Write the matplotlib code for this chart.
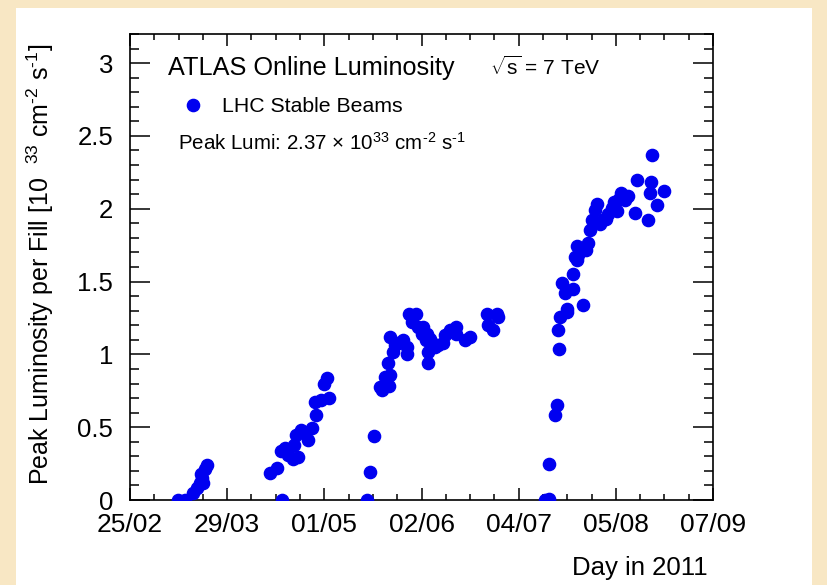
"""ATLAS online peak luminosity per fill, 2011 — ROOT-style scatter."""
import matplotlib
matplotlib.use("Agg")
import matplotlib.pyplot as plt
from matplotlib.patches import Rectangle

plt.rcParams["font.family"] = ["Liberation Sans", "DejaVu Sans"]
plt.rcParams["mathtext.fontset"] = "custom"
plt.rcParams["mathtext.rm"] = "Liberation Sans"
plt.rcParams["mathtext.it"] = "Liberation Sans:italic"
plt.rcParams["mathtext.bf"] = "Liberation Sans:bold"

# day of year 2011 for each fill, and its peak luminosity [1e33 cm^-2 s^-1]
day_mar = [72.0, 74.3, 77.0, 78.3, 79.3, 80.3, 80.0, 79.6, 81.0, 81.6]
lumi_mar = [0.0, 0.0, 0.05, 0.08, 0.12, 0.12, 0.15, 0.18, 0.21, 0.24]

day_apr = [102.6, 104.8, 106.5, 106.2, 107.6, 108.7, 110.6, 110.3, 112.0, 111.2,
           112.8, 114.2, 115.3, 116.5, 117.9, 117.6, 119.5, 122.3, 120.7, 121.7]
lumi_apr = [0.187, 0.217, 0.0, 0.338, 0.357, 0.309, 0.377, 0.279, 0.293, 0.446,
            0.48, 0.46, 0.41, 0.496, 0.583, 0.674, 0.69, 0.697, 0.80, 0.84]

day_jun = [135.0, 135.9, 137.2, 139.8, 139.2, 142.3, 142.5, 140.9, 142.0, 143.4,
           144.2, 142.5, 145.3, 146.9, 148.3, 148.1, 148.9, 151.2, 149.7, 151.9,
           153.6, 153.1, 154.9, 154.5, 155.8, 156.4, 155.3, 155.3, 157.5, 158.6,
           160.3, 160.8, 162.5, 164.5, 164.5, 167.5, 169.1, 174.9, 178.0, 178.6,
           175.2, 176.9]
lumi_jun = [0.0, 0.194, 0.439, 0.754, 0.777, 0.782, 0.857, 0.846, 0.942, 1.017,
            1.063, 1.12, 1.075, 1.097, 1.052, 1.006, 1.28, 1.28, 1.223, 1.189,
            1.189, 1.143, 1.143, 1.10, 1.109, 1.075, 1.017, 0.942, 1.052, 1.063,
            1.075, 1.132, 1.166, 1.189, 1.143, 1.097, 1.12, 1.28, 1.28, 1.257,
            1.20, 1.166]

day_aug = [194.1, 195.5, 195.5, 198.0, 197.4, 198.9, 198.5, 199.1, 201.3, 201.3,
           200.8, 199.7, 203.5, 203.3, 206.6, 204.6, 205.2, 204.1, 204.6, 207.7,
           208.5, 209.1, 209.6, 210.7, 211.5, 212.4, 213.0, 214.4, 215.2, 216.3,
           217.1, 218.0, 218.8, 219.4, 220.7, 221.8, 224.1, 224.6, 228.5, 229.3,
           229.0, 229.8, 231.3, 233.7]
lumi_aug = [0.0, 0.01, 0.25, 0.65, 0.583, 1.04, 1.17, 1.257, 1.29, 1.315,
            1.42, 1.49, 1.45, 1.55, 1.337, 1.646, 1.68, 1.669, 1.742, 1.715,
            1.765, 1.857, 1.92, 1.994, 2.035, 1.898, 1.92, 1.932, 1.966, 2.007,
            2.046, 1.984, 2.069, 2.108, 2.058, 2.085, 1.97, 2.20, 1.925, 2.183,
            2.108, 2.366, 2.023, 2.121]

days = day_mar + day_apr + day_jun + day_aug
lumi = lumi_mar + lumi_apr + lumi_jun + lumi_aug

x_labels = ["25/02", "29/03", "01/05", "02/06", "04/07", "05/08", "07/09"]
y_labels = ["0", "0.5", "1", "1.5", "2", "2.5", "3"]
day_min, day_max = 56, 250

BLUE = "#0000f0"

fig = plt.figure(figsize=(8.27, 5.85), dpi=100)
fig.patch.set_facecolor("#f8e7c4")
fig.patches.append(Rectangle((16 / 827, 0), 796 / 827, 577 / 585,
                             transform=fig.transFigure, facecolor="white",
                             edgecolor="none", zorder=-10))
ax = fig.add_axes([130 / 827, 85 / 585, 583 / 827, 466 / 585])
ax.set_zorder(1)

ax.plot(days, lumi, "o", color=BLUE, ms=8.8, mec=BLUE, ls="none", zorder=3)

ax.set_xlim(day_min, day_max)
ax.set_ylim(0, 3.2)
step = (day_max - day_min) / 6
ax.set_xticks([day_min + i * step for i in range(7)])
ax.set_xticklabels(x_labels)
ax.set_xticks([day_min + i * step / 4 for i in range(25)], minor=True)
ax.set_yticks([0.5 * i for i in range(7)])
ax.set_yticklabels(y_labels)
ax.set_yticks([0.1 * i for i in range(33)], minor=True)

for s in ax.spines.values():
    s.set_linewidth(1.2)
ax.tick_params(which="both", direction="in", top=True, right=True, width=1.1,
               labelsize=19)
ax.tick_params(axis="x", which="major", length=8.6, pad=9)
ax.tick_params(axis="x", which="minor", length=4.3)
ax.tick_params(axis="y", which="major", length=14.4, pad=12)
ax.tick_params(axis="y", which="minor", length=6.5)
ax.tick_params(axis="y", which="major", labelsize=18.5)

ax.set_ylabel(r"Peak Luminosity per Fill [10  $^{33}$ cm$^{\text{-2}}$ s$^{\text{-1}}$]",
              fontsize=18)
ax.yaxis.set_label_coords(-0.127, 0.505)
ax.text(0.99, -0.16, "Day in 2011", transform=ax.transAxes, ha="right",
        va="baseline", fontsize=18.5)

ax.text(0.065, 0.912, "ATLAS Online Luminosity", transform=ax.transAxes,
        fontsize=18.2, va="baseline")
ax.text(0.617, 0.912, r"$\sqrt{\mathrm{s}}$ = 7 TeV", transform=ax.transAxes,
        fontsize=15, va="baseline")
ax.plot([0.108], [0.848], "o", color=BLUE, ms=8.8, transform=ax.transAxes,
        clip_on=False)
ax.text(0.158, 0.833, "LHC Stable Beams", transform=ax.transAxes,
        fontsize=15.3, va="baseline")
ax.text(0.082, 0.751,
        r"Peak Lumi: 2.37 $\times$ 10$^{33}$ cm$^{\text{-2}}$ s$^{\text{-1}}$",
        transform=ax.transAxes, fontsize=14.8, va="baseline")

fig.savefig("out.png", dpi=100, facecolor=fig.get_facecolor())
